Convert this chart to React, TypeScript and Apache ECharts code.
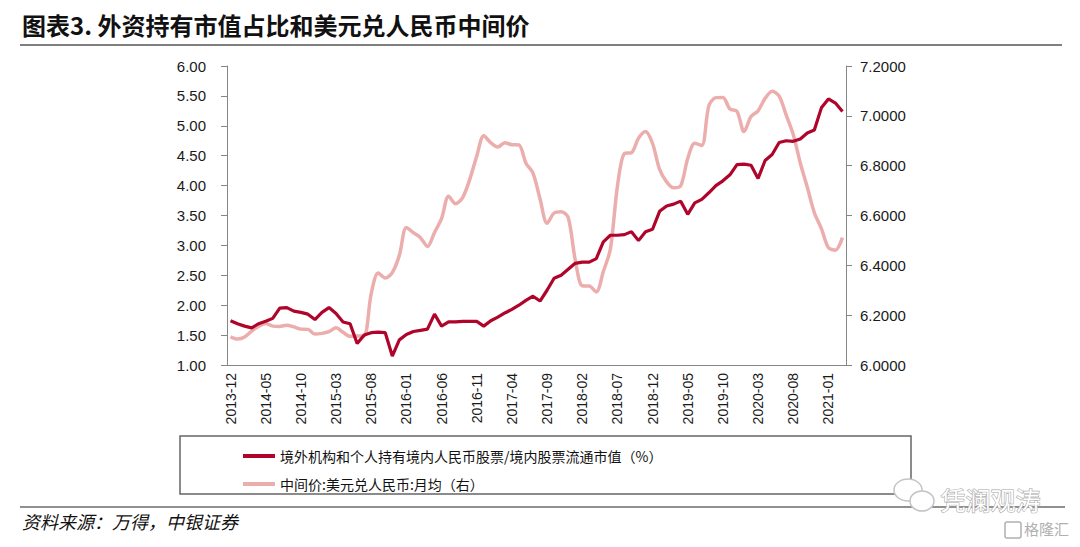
import React, { useEffect, useRef } from "react";
import * as echarts from "echarts";

const months: string[] = [
  "2013-12",
  "2014-01", "2014-02", "2014-03", "2014-04", "2014-05", "2014-06", "2014-07", "2014-08", "2014-09", "2014-10", "2014-11", "2014-12",
  "2015-01", "2015-02", "2015-03", "2015-04", "2015-05", "2015-06", "2015-07", "2015-08", "2015-09", "2015-10", "2015-11", "2015-12",
  "2016-01", "2016-02", "2016-03", "2016-04", "2016-05", "2016-06", "2016-07", "2016-08", "2016-09", "2016-10", "2016-11", "2016-12",
  "2017-01", "2017-02", "2017-03", "2017-04", "2017-05", "2017-06", "2017-07", "2017-08", "2017-09", "2017-10", "2017-11", "2017-12",
  "2018-01", "2018-02", "2018-03", "2018-04", "2018-05", "2018-06", "2018-07", "2018-08", "2018-09", "2018-10", "2018-11", "2018-12",
  "2019-01", "2019-02", "2019-03", "2019-04", "2019-05", "2019-06", "2019-07", "2019-08", "2019-09", "2019-10", "2019-11", "2019-12",
  "2020-01", "2020-02", "2020-03", "2020-04", "2020-05", "2020-06", "2020-07", "2020-08", "2020-09", "2020-10", "2020-11", "2020-12",
  "2021-01", "2021-02", "2021-03",
];

// 境外机构和个人持有境内人民币股票/境内股票流通市值（%）
const foreignShare: number[] = [
  1.74,
  1.69, 1.65, 1.62, 1.69, 1.73, 1.78, 1.95, 1.96, 1.90, 1.88, 1.85, 1.76,
  1.88, 1.96, 1.86, 1.72, 1.69, 1.36, 1.50, 1.54, 1.55, 1.54, 1.15, 1.42,
  1.51, 1.56, 1.58, 1.60, 1.85, 1.65, 1.72, 1.72, 1.73, 1.73, 1.73, 1.65,
  1.74, 1.80, 1.87, 1.93, 2.00, 2.08, 2.15, 2.07, 2.25, 2.45, 2.50, 2.60,
  2.70, 2.72, 2.72, 2.78, 3.06, 3.17, 3.17, 3.18, 3.23, 3.08, 3.23, 3.27,
  3.57, 3.66, 3.69, 3.74, 3.52, 3.71, 3.77, 3.88, 4.00, 4.08, 4.18, 4.35,
  4.36, 4.34, 4.12, 4.42, 4.52, 4.72, 4.75, 4.74, 4.78, 4.88, 4.93, 5.30,
  5.45, 5.38, 5.24,
];

// 中间价:美元兑人民币:月均（右）
const usdCny: number[] = [
  6.113,
  6.104, 6.112, 6.136, 6.155, 6.167, 6.156, 6.155, 6.160, 6.153, 6.144, 6.143, 6.124,
  6.127, 6.134, 6.149, 6.131, 6.115, 6.116, 6.117, 6.286, 6.369, 6.349, 6.371, 6.440,
  6.552, 6.531, 6.511, 6.476, 6.532, 6.587, 6.677, 6.647, 6.672, 6.744, 6.838, 6.920,
  6.892, 6.875, 6.892, 6.884, 6.883, 6.810, 6.770, 6.667, 6.569, 6.610, 6.615, 6.593,
  6.423, 6.318, 6.317, 6.293, 6.375, 6.465, 6.716, 6.849, 6.852, 6.910, 6.937, 6.889,
  6.785, 6.735, 6.711, 6.719, 6.829, 6.890, 6.881, 7.040, 7.073, 7.074, 7.027, 7.018,
  6.937, 6.997, 7.020, 7.070, 7.099, 7.079, 7.003, 6.925, 6.811, 6.713, 6.611, 6.547,
  6.471, 6.461, 6.511,
];

const seriesNames: string[] = [
  "境外机构和个人持有境内人民币股票/境内股票流通市值（%）",
  "中间价:美元兑人民币:月均（右）",
];

const titleText = "图表3. 外资持有市值占比和美元兑人民币中间价";
const sourceText = "资料来源：万得，中银证券";

const DARK = "#B0052B";
const PINK = "#EBAEAC";
const AXIS = "#868686";
const CJK = "'Noto Sans CJK SC', sans-serif";
const LATIN = "'Liberation Sans', Arial, sans-serif";

export default function App() {
  const ref = useRef<HTMLDivElement>(null);

  useEffect(() => {
    if (!ref.current) return;
    const chart = echarts.init(ref.current, null, { renderer: "svg" });
    chart.setOption({
      animation: false,
      backgroundColor: "#ffffff",
      grid: { left: 227, right: 234, top: 66, bottom: 182, containLabel: false },
      legend: {
        orient: "vertical",
        left: 238,
        top: 444,
        itemWidth: 32,
        itemHeight: 4,
        itemGap: 14,
        icon: "rect",
        textStyle: { fontFamily: CJK, fontSize: 14, color: "#111" },
        data: seriesNames,
      },
      xAxis: {
        type: "category",
        data: months,
        boundaryGap: true,
        axisLine: { lineStyle: { color: AXIS, width: 1 } },
        axisTick: { interval: 4, length: 6, lineStyle: { color: AXIS } },
        axisLabel: {
          interval: 4,
          rotate: 90,
          fontFamily: LATIN,
          fontSize: 14,
          color: "#1a1a1a",
          margin: 8,
        },
        splitLine: { show: false },
      },
      yAxis: [
        {
          type: "value",
          min: 1,
          max: 6,
          interval: 0.5,
          position: "left",
          axisLine: { show: true, lineStyle: { color: AXIS } },
          axisTick: { show: true, length: 6, lineStyle: { color: AXIS } },
          axisLabel: {
            formatter: (v: number) => v.toFixed(2),
            fontFamily: LATIN,
            fontSize: 15,
            color: "#1a1a1a",
            margin: 21,
          },
          splitLine: { show: false },
        },
        {
          type: "value",
          min: 6,
          max: 7.2,
          interval: 0.2,
          position: "right",
          axisLine: { show: true, lineStyle: { color: AXIS } },
          axisTick: { show: true, length: 6, lineStyle: { color: AXIS } },
          axisLabel: {
            formatter: (v: number) => v.toFixed(4),
            fontFamily: LATIN,
            fontSize: 15,
            color: "#1a1a1a",
            margin: 14,
          },
          splitLine: { show: false },
        },
      ],
      series: [
        {
          name: seriesNames[0],
          type: "line",
          yAxisIndex: 0,
          data: foreignShare,
          showSymbol: false,
          symbol: "none",
          itemStyle: { color: DARK },
          lineStyle: { color: DARK, width: 3.2 },
          z: 3,
        },
        {
          name: seriesNames[1],
          type: "line",
          yAxisIndex: 1,
          data: usdCny,
          showSymbol: false,
          symbol: "none",
          smooth: 0.3,
          itemStyle: { color: PINK },
          lineStyle: { color: PINK, width: 3.5 },
          z: 2,
        },
      ],
      graphic: [
        {
          type: "text",
          left: 22,
          top: 12,
          style: {
            text: titleText,
            fontFamily: CJK,
            fontWeight: "bold",
            fontSize: 24,
            fill: "#111",
          },
        },
        {
          type: "line",
          shape: { x1: 20, y1: 45, x2: 1062, y2: 45 },
          style: { stroke: "#7f7f7f", lineWidth: 2 },
        },
        {
          type: "rect",
          shape: { x: 180, y: 436, width: 731, height: 58 },
          style: { fill: "none", stroke: "#666", lineWidth: 1.5 },
        },
        {
          type: "line",
          shape: { x1: 20, y1: 507, x2: 1065, y2: 507 },
          style: { stroke: "#222", lineWidth: 1.2 },
        },
        {
          type: "text",
          left: 22,
          top: 512,
          style: {
            text: sourceText,
            fontFamily: CJK,
            fontStyle: "italic",
            fontSize: 18,
            fill: "#111",
          },
        },
        {
          type: "ellipse",
          shape: { cx: 908, cy: 490, rx: 14, ry: 11 },
          style: { fill: "#fff", stroke: "#c4c4c4", lineWidth: 1.5 },
        },
        {
          type: "ellipse",
          shape: { cx: 922, cy: 501, rx: 12, ry: 10 },
          style: { fill: "#fff", stroke: "#c4c4c4", lineWidth: 1.5 },
        },
        {
          type: "text",
          left: 940,
          top: 486,
          style: {
            text: "凭澜观涛",
            fontFamily: CJK,
            fontSize: 25,
            fill: "#fff",
            stroke: "#a8a8a8",
            lineWidth: 1.2,
          },
        },
        {
          type: "rect",
          shape: { x: 1005, y: 522, width: 16, height: 16, r: 2 },
          style: { fill: "none", stroke: "#b0b0b0", lineWidth: 1.5 },
        },
        {
          type: "text",
          left: 1024,
          top: 521,
          style: {
            text: "格隆汇",
            fontFamily: CJK,
            fontSize: 15,
            fill: "#b0b0b0",
          },
        },
      ],
    });
    return () => chart.dispose();
  }, []);

  return (
    <div
      ref={ref}
      style={{ position: "absolute", left: 0, top: 0, width: 1080, height: 547 }}
    />
  );
}
